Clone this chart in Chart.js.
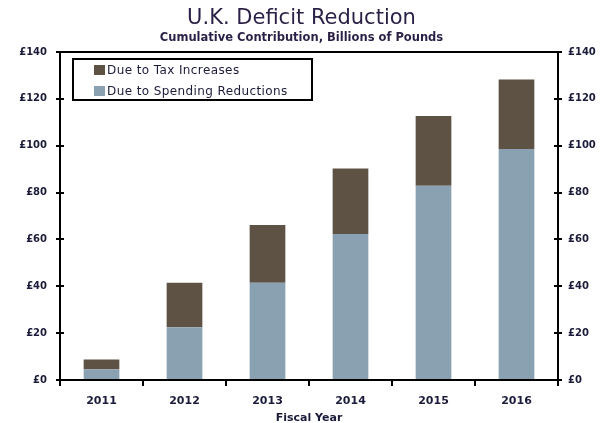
<!DOCTYPE html>
<html>
<head>
<meta charset="utf-8">
<script src="https://cdn.jsdelivr.net/npm/chart.js@4.4.1/dist/chart.umd.min.js"></script>
<style>
  html, body { margin: 0; padding: 0; background: #fff; }
  #wrap { position: relative; width: 603px; height: 423px; }
  #legend {
    position: absolute; left: 72px; top: 58px; width: 237px; height: 39px;
    border: 2px solid #000; font-family: "DejaVu Sans", sans-serif; font-size: 12px; letter-spacing: 0.4px; color: #1b1b3a;
  }
  .item { position: absolute; left: 20px; height: 14px; line-height: 14px; white-space: nowrap; }
  .sw { display: inline-block; width: 11px; height: 10px; vertical-align: -1px; margin-right: 2px; }
</style>
</head>
<body>
<div id="wrap">
  <canvas id="c" width="603" height="423"></canvas>
  <div id="legend">
    <div class="item" style="top:3px"><span class="sw" style="background:#5e5245"></span>Due to Tax Increases</div>
    <div class="item" style="top:24px"><span class="sw" style="background:#8aa1b1"></span>Due to Spending Reductions</div>
  </div>
</div>
<script>
const categories = ["2011", "2012", "2013", "2014", "2015", "2016"];
const spendingReductions = [4.6, 22.5, 41.5, 62.3, 82.9, 98.6];
const taxIncreases = [4.1, 19.0, 24.7, 28.0, 29.8, 29.7];
const yTicks = [0, 20, 40, 60, 80, 100, 120, 140];

const FONT = "DejaVu Sans";
const TXT = "#1b1b3a";

const innerTicks = {
  id: 'innerTicks',
  afterDatasetsDraw(chart) {
    const ctx = chart.ctx;
    ctx.save();
    ctx.strokeStyle = '#000';
    ctx.lineWidth = 2;
    ['y', 'y2'].forEach(id => {
      const s = chart.scales[id];
      const isLeft = id === 'y';
      const x0 = isLeft ? chart.chartArea.left : chart.chartArea.right;
      yTicks.forEach(v => {
        const py = Math.round(s.getPixelForValue(v));
        ctx.beginPath();
        ctx.moveTo(x0, py);
        ctx.lineTo(isLeft ? x0 + 4 : x0 - 4, py);
        ctx.stroke();
      });
    });
    ctx.restore();
  }
};

const yCommon = {
  stacked: true,
  min: 0, max: 140,
  afterBuildTicks(scale) { scale.ticks = yTicks.map(v => ({ value: v })); },
  grid: { drawOnChartArea: false, drawTicks: true, tickLength: 4, color: '#000', lineWidth: 2 },
  border: { display: true, color: '#000', width: 2 },
  ticks: {
    color: TXT,
    font: { family: FONT, size: 10, weight: 'bold' },
    callback: v => '£' + v
  }
};

new Chart(document.getElementById('c'), {
  type: 'bar',
  data: {
    labels: categories,
    datasets: [
      { label: 'Due to Spending Reductions', data: spendingReductions, backgroundColor: '#8aa1b1', yAxisID: 'y' },
      { label: 'Due to Tax Increases', data: taxIncreases, backgroundColor: '#5e5245', yAxisID: 'y' }
    ]
  },
  options: {
    responsive: false,
    animation: false,
    categoryPercentage: 1.0,
    barPercentage: 0.43,
    layout: { padding: { left: 0, right: 0, top: 0, bottom: 0 } },
    plugins: {
      legend: { display: false },
      tooltip: { enabled: false },
      title: {
        display: true, text: 'U.K. Deficit Reduction', color: '#2a1f45',
        font: { family: FONT, size: 21, weight: 'normal' }, padding: { top: 5.5, bottom: 0 }
      },
      subtitle: {
        display: true, text: 'Cumulative Contribution, Billions of Pounds', color: '#2a1f45',
        font: { family: FONT, size: 11.5, weight: 'bold' }, padding: { top: 0, bottom: 7.5 }
      }
    },
    scales: {
      x: {
        stacked: true,
        offset: true,
        afterFit(scale) { scale.height = 43; },
        grid: { display: true, offset: true, drawOnChartArea: false, drawTicks: true, tickLength: 6, color: '#000', lineWidth: 2 },
        border: { display: true, color: '#000', width: 2 },
        ticks: { color: TXT, font: { family: FONT, size: 11, weight: 'bold' }, padding: 9 },
        title: { display: true, text: 'Fiscal Year', color: TXT, font: { family: FONT, size: 11, weight: 'bold' }, padding: { top: 0, bottom: -2 } }
      },
      x2: {
        position: 'top',
        offset: true,
        grid: { display: false, drawTicks: false },
        border: { display: true, color: '#000', width: 2 },
        ticks: { display: false }
      },
      y: Object.assign({}, yCommon, {
        position: 'left',
        afterFit(scale) { scale.width = 60; },
        ticks: Object.assign({}, yCommon.ticks, { padding: 9 })
      }),
      y2: Object.assign({}, yCommon, {
        position: 'right',
        afterFit(scale) { scale.width = 45; },
        ticks: Object.assign({}, yCommon.ticks, { padding: 6 })
      })
    }
  },
  plugins: [innerTicks]
});
</script>
</body>
</html>
